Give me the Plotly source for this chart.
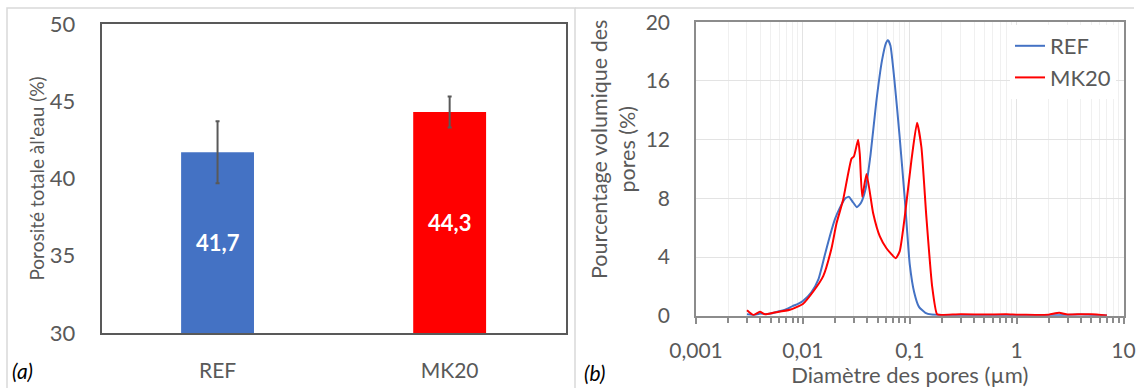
import plotly.graph_objects as go

# ---- data: panel (a)
categories = ["REF", "MK20"]
porosity = [41.7, 44.3]
porosity_err = [2.0, 1.0]
bar_colors = ["#4472C4", "#FF0000"]

# ---- data: panel (b)
ref_d = [0.003, 0.0035, 0.004, 0.0045, 0.005, 0.006, 0.007, 0.008, 0.009, 0.010,
         0.012, 0.014, 0.016, 0.018, 0.020, 0.022, 0.025, 0.027, 0.029, 0.032,
         0.035, 0.0385, 0.043, 0.0485, 0.055, 0.060, 0.0625, 0.066, 0.072, 0.080,
         0.090, 0.100, 0.110, 0.122, 0.14, 0.16, 0.2, 0.3, 0.5, 0.8, 1.0, 2.0,
         3.0, 4.0, 5.0, 7.0]
ref_v = [0.1, 0.05, 0.15, 0.1, 0.15, 0.3, 0.45, 0.65, 0.8, 1.0,
         1.6, 2.5, 4.1, 5.5, 6.6, 7.3, 8.0, 8.1, 7.8, 7.4,
         7.7, 8.6, 11.0, 14.5, 17.4, 18.6, 18.8, 18.4, 16.0, 12.4,
         7.9, 3.5, 1.6, 0.6, 0.2, 0.08, 0.05, 0.05, 0.03, 0.05, 0.03, 0.03,
         0.05, 0.08, 0.05, 0.02]

mk_d = [0.003, 0.00344, 0.00396, 0.00442, 0.00528, 0.00756, 0.010, 0.0125, 0.0155,
        0.01854, 0.02065, 0.0238, 0.0285, 0.030, 0.0329, 0.0341, 0.0359, 0.0394,
        0.0454, 0.0525, 0.0605, 0.074, 0.0806, 0.0898, 0.1037, 0.117, 0.1285,
        0.143, 0.162, 0.18, 0.2, 0.3, 0.5, 0.8, 1.0, 1.5, 2.0, 2.5, 3.0, 4.0,
        5.0, 7.0]
mk_v = [0.37, 0.05, 0.27, 0.1, 0.2, 0.4, 0.8, 1.65, 2.7,
        4.6, 6.3, 7.9, 10.7, 10.85, 12.0, 11.0, 8.1, 9.66,
        7.0, 5.4, 4.6, 3.92, 4.4, 6.75, 10.6, 13.15, 11.5,
        6.75, 2.0, 0.1, 0.05, 0.1, 0.08, 0.1, 0.07, 0.05, 0.07, 0.2, 0.08, 0.1,
        0.1, 0.02]

x_tickvals = [0.001, 0.01, 0.1, 1, 10]
x_ticktext = ["0,001", "0,01", "0,1", "1", "10"]

W, H = 1139, 388
GRAY = "#595959"
FONT = "Lato"

fig = go.Figure()

fig.add_trace(go.Bar(
    x=categories, y=porosity, marker_color=bar_colors, showlegend=False,
    error_y=dict(type="data", array=porosity_err, color=GRAY, thickness=2, width=2),
    xaxis="x", yaxis="y",
))

for c, v in zip(categories, porosity):
    fig.add_annotation(x=c, y=(30 + v) / 2, xref="x", yref="y", text=f"{v:.1f}".replace(".", ","),
                       showarrow=False, font=dict(family=FONT, size=22, color="white", weight="bold"))

fig.add_trace(go.Scatter(x=ref_d, y=ref_v, mode="lines", name="REF",
                         line=dict(color="#4472C4", width=2, shape="spline", smoothing=0.5),
                         xaxis="x2", yaxis="y2"))
fig.add_trace(go.Scatter(x=mk_d, y=mk_v, mode="lines", name="MK20",
                         line=dict(color="#FF0000", width=2, shape="spline", smoothing=0.5),
                         xaxis="x2", yaxis="y2"))

minor_vals = [m * 10 ** e for e in range(-3, 1) for m in range(2, 10)]

fig.update_layout(
    template="none",
    width=W, height=H, margin=dict(l=0, r=0, t=0, b=0),
    paper_bgcolor="white", plot_bgcolor="white",
    font=dict(family=FONT, color=GRAY, size=20),
    bargap=0.686,
    xaxis=dict(domain=[101.5 / W, 565.7 / W], anchor="y", showline=True, mirror=True,
               linecolor=GRAY, linewidth=1.5, ticks="", tickfont=dict(size=21),
               ticklabelstandoff=18, automargin=False, showgrid=False),
    yaxis=dict(domain=[1 - 333 / H, 1 - 24 / H], anchor="x", range=[30, 50], dtick=5,
               showline=True, mirror=True, linecolor=GRAY, linewidth=1.5, showgrid=False,
               ticks="", tickfont=dict(size=22), ticklabelstandoff=20, automargin=False,
               zeroline=False,
               title=dict(text="Porosité totale àl'eau (%)", font=dict(size=19), standoff=0)),
    xaxis2=dict(domain=[696 / W, 1123.5 / W], anchor="y2", type="log", range=[-3, 1],
                tickmode="array", tickvals=x_tickvals, ticktext=x_ticktext,
                showline=True, mirror=True, linecolor="#8c8c8c", linewidth=1.5,
                ticks="outside", ticklen=7, tickcolor="#8c8c8c", tickwidth=1.5,
                showgrid=True, gridcolor="#e3e3e3", automargin=False,
                minor=dict(tickmode="array", tickvals=minor_vals, ticks="outside", ticklen=6,
                           tickcolor="#8c8c8c", showgrid=True, gridcolor="#f0f0f0"),
                tickfont=dict(size=21), ticklabelstandoff=8,
                title=dict(text="Diamètre des pores (µm)", font=dict(size=22), standoff=2),
                zeroline=False),
    yaxis2=dict(domain=[1 - 315.7 / H, 1 - 22.3 / H], anchor="x2", range=[0, 20], dtick=4,
                showline=True, mirror=True, linecolor="#8c8c8c", linewidth=1.5,
                showgrid=True, gridcolor="#e3e3e3", zeroline=False, automargin=False,
                ticks="", tickfont=dict(size=21), ticklabelstandoff=20),
    legend=dict(x=1010 / W, y=1 - 25 / H, xanchor="left", yanchor="top",
                bgcolor="white", font=dict(size=22, color=GRAY), itemwidth=30,
                tracegroupgap=0),
)

# right y-axis title (Excel places it above the plot centre)
fig.add_annotation(x=613 / W, y=1 - 150 / H, xref="paper", yref="paper",
                   text="Pourcentage volumique des<br>pores (%)", textangle=-90,
                   showarrow=False, xanchor="center", yanchor="middle",
                   font=dict(size=21.5, color=GRAY))

# panel frames
fig.add_shape(type="rect", xref="paper", yref="paper", x0=7 / W, x1=575 / W, y0=-0.01, y1=1 - 8 / H,
              line=dict(color="#d9d9d9", width=1.5), layer="below")
fig.add_shape(type="line", xref="paper", yref="paper", x0=575 / W, x1=1134 / W, y0=1 - 8 / H, y1=1 - 8 / H,
              line=dict(color="#d9d9d9", width=1.5), layer="below")

fig.add_annotation(x=10 / W, y=1 - 370 / H, xref="paper", yref="paper", text="<i>(a)</i>",
                   showarrow=False, xanchor="left", yanchor="middle", font=dict(size=21, color="black"))
fig.add_annotation(x=582 / W, y=1 - 372 / H, xref="paper", yref="paper", text="<i>(b)</i>",
                   showarrow=False, xanchor="left", yanchor="middle", font=dict(size=21, color="black"))

fig.write_html("out.html", post_script="document.body.style.margin='0';",
               config={"displayModeBar": False})
